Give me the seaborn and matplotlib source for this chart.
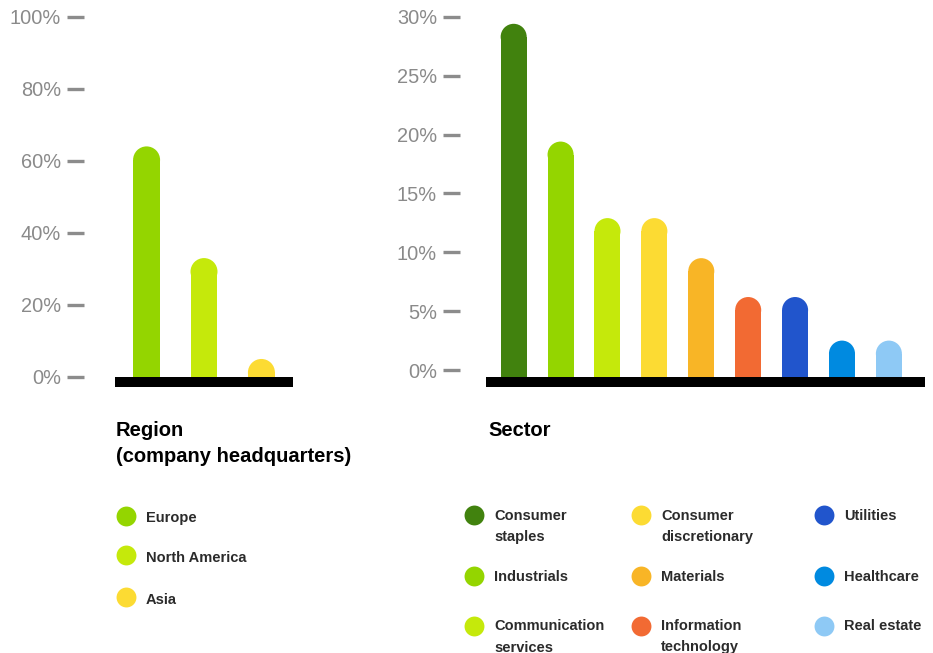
import matplotlib
matplotlib.use("Agg")
import matplotlib.pyplot as plt
import seaborn as sns
from matplotlib.patches import Ellipse

# ---------------- data ----------------
region_names = ["Europe", "North America", "Asia"]
region_values = [64, 33, 5]
region_colors = ["#94d500", "#c5e90b", "#fcdb33"]
region_ticks = [0, 20, 40, 60, 80, 100]

sector_names = ["Consumer\nstaples", "Industrials", "Communication\nservices",
                "Consumer\ndiscretionary", "Materials", "Information\ntechnology",
                "Utilities", "Healthcare", "Real estate"]
sector_values = [29.4, 19.4, 12.9, 12.9, 9.5, 6.2, 6.2, 2.5, 2.5]
sector_colors = ["#41820e", "#94d500", "#c5e90b", "#fcdb33", "#f8b526",
                 "#f26a33", "#2155cc", "#008ae0", "#8ec9f5"]
sector_ticks = [0, 5, 10, 15, 20, 25, 30]

region_title = "Region\n(company headquarters)"
sector_title = "Sector"

# ---------------- style ----------------
plt.rcParams["font.family"] = ["Liberation Sans", "DejaVu Sans"]
TICK_GRAY = "#8c8c8c"
LABEL_GRAY = "#8a8a8a"
TEXT_DARK = "#2b2b2b"

W, H = 933, 653
fig = plt.figure(figsize=(W / 100, H / 100), dpi=100)


def rect(left, top, right, bottom):
    return [left / W, 1 - bottom / H, (right - left) / W, (bottom - top) / H]


# overlay axes in pixel coordinates for titles / legends
ov = fig.add_axes([0, 0, 1, 1])
ov.set_xlim(0, W)
ov.set_ylim(H, 0)
ov.axis("off")


def round_bars(ax, base):
    to_px = ax.transData.transform
    for p in list(ax.patches):
        x, w, h = p.get_x(), p.get_width(), p.get_height()
        top = p.get_y() + h
        (x0, y0), (x1, y1) = to_px([(x, 0), (x + w, 1)])
        r_px = abs(x1 - x0) / 2
        ry = r_px / abs(y1 - y0)
        p.set_y(base)
        p.set_height(top - ry - base)
        p.set_linewidth(0)
        ax.add_patch(Ellipse((x + w / 2, top - ry), w, 2 * ry,
                             facecolor=p.get_facecolor(), edgecolor="none", lw=0))


def style_axis(ax, ticks, outward_pt):
    for s in ["top", "right", "bottom"]:
        ax.spines[s].set_visible(False)
    ax.spines["left"].set_position(("outward", outward_pt))
    ax.spines["left"].set_visible(False)
    ax.set_yticks(ticks)
    ax.set_yticklabels([f"{t}%" for t in ticks])
    ax.set_xticks([])
    ax.set_xlabel("")
    ax.set_ylabel("")
    ax.tick_params(axis="y", length=12.3, width=2.4, color=TICK_GRAY,
                   labelcolor=LABEL_GRAY, labelsize=14.4, pad=4.3)
    ax.patch.set_alpha(0)


# ---------------- left panel: region ----------------
axL = fig.add_axes(rect(115, 13.1, 293, 388.5))
axL.set_xlim(-0.55, 2.55)
axL.set_ylim(-3.2, 101)
sns.barplot(x=region_names, y=region_values, hue=region_names,
            palette=region_colors, saturation=1, width=0.47,
            legend=False, ax=axL)
axL.set_xlim(-0.55, 2.55)
axL.set_ylim(-3.2, 101)
round_bars(axL, 0)
axL.axhspan(-2.75, 0, color="black", lw=0, zorder=5)
style_axis(axL, region_ticks, 22.3)

# ---------------- right panel: sector ----------------
axR = fig.add_axes(rect(486, 13.2, 925, 387.7))
axR.set_xlim(-0.59, 8.77)
axR.set_ylim(-1.5, 30.3)
sns.barplot(x=sector_names, y=sector_values, hue=sector_names,
            palette=sector_colors, saturation=1, width=0.555,
            legend=False, ax=axR)
axR.set_xlim(-0.59, 8.77)
axR.set_ylim(-1.5, 30.3)
round_bars(axR, -0.58)
axR.axhspan(-1.42, -0.58, color="black", lw=0, zorder=5)
style_axis(axR, sector_ticks, 18.7)

# ---------------- titles ----------------
for i, line in enumerate(region_title.split("\n")):
    ov.text(116, 436 + i * 26.3, line, fontsize=14.5, fontweight="bold",
            color="black", va="baseline", ha="left")
ov.text(488, 436, sector_title, fontsize=14.5, fontweight="bold",
        color="black", va="baseline", ha="left")

# ---------------- legends ----------------
def legend_item(cx, cy, tx, color, label, off):
    ov.scatter([cx], [cy], s=205, color=color, linewidths=0)
    for i, line in enumerate(label.split("\n")):
        ov.text(tx, cy + off + i * 21, line, fontsize=10.5, fontweight="bold",
                color=TEXT_DARK, va="baseline", ha="left")


left_rows = [515.5, 555, 597]
for name, col, cy in zip(region_names, region_colors, left_rows):
    legend_item(126, cy, 146, col, name, 6.5)

col_cx = [474, 641, 824]
col_tx = [494, 661, 844]
row_cy = [515, 576.3, 626]
for k, (name, col) in enumerate(zip(sector_names, sector_colors)):
    c, r = divmod(k, 3)
    legend_item(col_cx[c], row_cy[r], col_tx[c], col, name, 4.5)

ov.set_xlim(0, W)
ov.set_ylim(H, 0)

fig.savefig("out.png", dpi=100)
